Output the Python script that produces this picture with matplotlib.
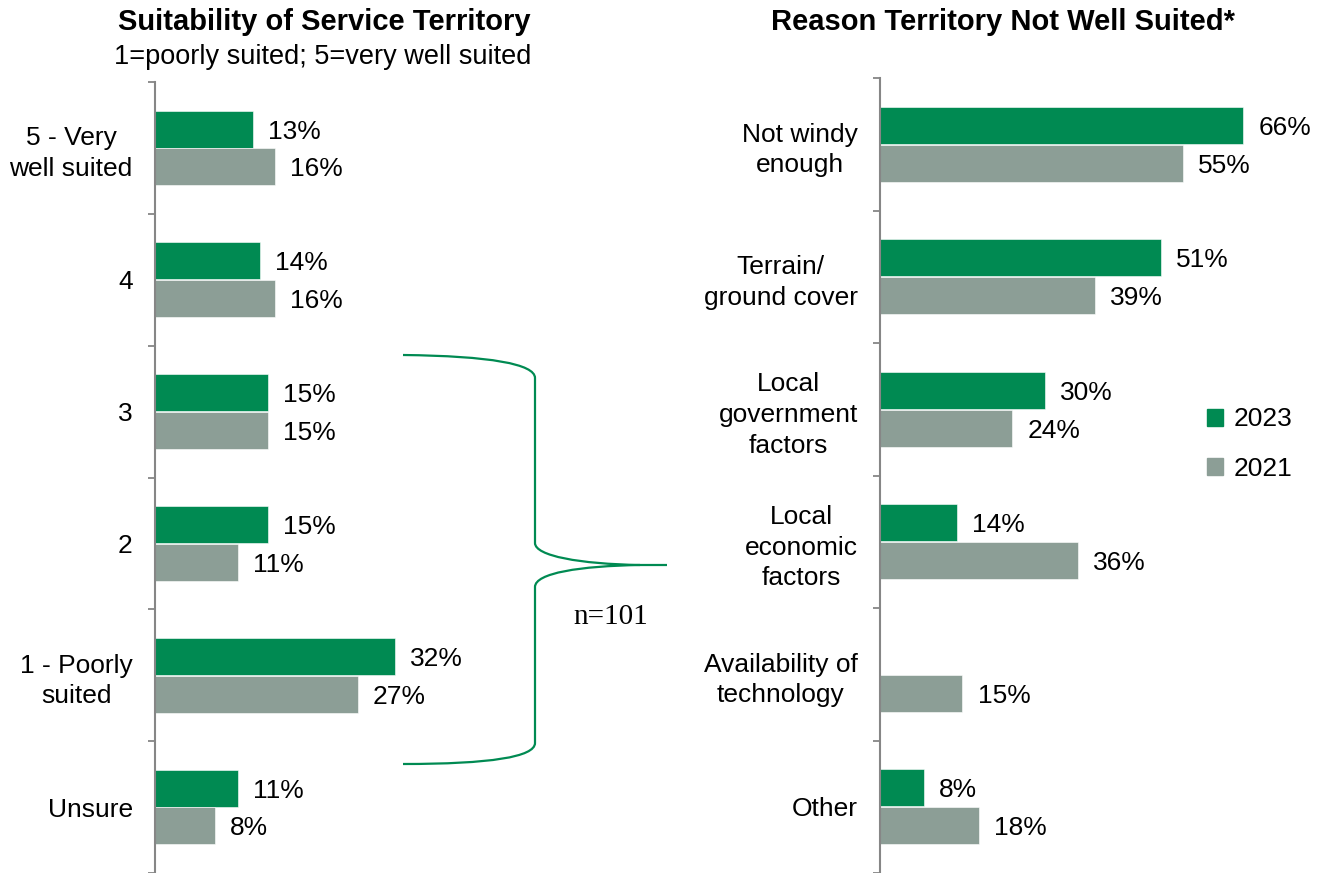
import matplotlib
matplotlib.use("Agg")
import matplotlib.pyplot as plt
from matplotlib.path import Path
from matplotlib.patches import PathPatch, Patch

plt.rcParams['font.family'] = ['Liberation Sans', 'DejaVu Sans']

# Survey data
suit_labels = ["5 - Very\nwell suited", "4", "3", "2", "1 - Poorly\nsuited", "Unsure"]
suit_2023 = [13, 14, 15, 15, 32, 11]
suit_2021 = [16, 16, 15, 11, 27, 8]

reason_labels = ["Not windy\nenough", "Terrain/\nground cover", "Local\ngovernment\nfactors",
                 "Local\neconomic\nfactors", "Availability of\ntechnology", "Other"]
reason_2023 = [66, 51, 30, 14, None, 8]
reason_2021 = [55, 39, 24, 36, 15, 18]

years = ["2023", "2021"]

GREEN = "#008a52"
GRAY = "#8c9e96"
SPINE = "#868686"
FS = 19

W, H = 1322, 873
fig = plt.figure(figsize=(W / 100, H / 100), dpi=100)


def px_axes(left, top, width):
    # axes placed in pixel units, running down to the bottom edge of the figure
    return fig.add_axes([left / W, 0, width / W, (H - top) / H])


def draw_panel(ax, labels, v23, v21, xmax, ybottom):
    n = len(labels)
    off, h = 0.143, 0.28
    for i in range(n):
        for val, dy, col in ((v23[i], -off, GREEN), (v21[i], off, GRAY)):
            if val is None:
                continue
            ax.barh(i + dy, val, height=h, color=col, edgecolor="white", linewidth=0.4)
            ax.annotate(f"{val}%", (val, i + dy), xytext=(11, 0), textcoords="offset points",
                        va="center_baseline", ha="left", fontsize=FS)
    ax.set_xlim(0, xmax)
    ax.set_ylim(ybottom, -0.5)
    ax.set_yticks(range(n))
    ax.set_yticklabels(labels, fontsize=FS, linespacing=1.35)
    for t in ax.get_yticklabels():
        t.set_multialignment("center")
    ax.set_yticks([i - 0.5 for i in range(n + 1)], minor=True)
    ax.tick_params(axis="y", which="major", length=0, pad=16)
    ax.tick_params(axis="y", which="minor", length=5, width=1.3, color=SPINE)
    ax.set_xticks([])
    for s in ("top", "right", "bottom"):
        ax.spines[s].set_visible(False)
    ax.spines["left"].set_color(SPINE)
    ax.spines["left"].set_linewidth(1.5)
    ax.patch.set_visible(False)


ax1 = px_axes(155, 82, 400)
draw_panel(ax1, suit_labels, suit_2023, suit_2021, 400 / 7.5, -0.5 + 791 / 132.8)

ax2 = px_axes(880, 78, 442)
draw_panel(ax2, reason_labels, reason_2023, reason_2021, 442 / 5.5, -0.5 + 795 / 133)

fig.text(324 / W, 1 - 22 / H, "Suitability of Service Territory", ha="center", va="center",
         fontsize=21, fontweight="bold")
fig.text(323 / W, 1 - 57 / H, "1=poorly suited; 5=very well suited", ha="center", va="center",
         fontsize=19.5)
fig.text(1003 / W, 1 - 22 / H, "Reason Territory Not Well Suited*", ha="center", va="center",
         fontsize=21, fontweight="bold")

handles = [Patch(color=GREEN), Patch(color=GRAY)]
fig.legend(handles, years, loc="center left", bbox_to_anchor=(1183 / W, 1 - 444 / H),
           frameon=False, fontsize=FS, handlelength=0.6, handleheight=0.6,
           handletextpad=0.4, labelspacing=0.95)

# brace linking the low ratings to the reasons panel
ov = fig.add_axes([0, 0, 1, 1])
ov.set_xlim(0, W)
ov.set_ylim(H, 0)
ov.axis("off")
ov.patch.set_visible(False)
verts = [(403, 355), (490, 356), (535, 364), (535, 378),
         (535, 543),
         (535, 556), (580, 564), (640, 565),
         (667, 565),
         (640, 565),
         (580, 566), (535, 573), (535, 587),
         (535, 743),
         (535, 757), (490, 764), (403, 764)]
codes = ([Path.MOVETO] + [Path.CURVE4] * 3 + [Path.LINETO] + [Path.CURVE4] * 3 +
         [Path.LINETO, Path.MOVETO] + [Path.CURVE4] * 3 + [Path.LINETO] + [Path.CURVE4] * 3)
ov.add_patch(PathPatch(Path(verts, codes), fill=False, edgecolor=GREEN, linewidth=1.6))
ov.text(611, 617, "n=101", ha="center", va="center", fontsize=21,
        family=["Liberation Serif", "DejaVu Serif"])

fig.savefig("out.png", dpi=100)
